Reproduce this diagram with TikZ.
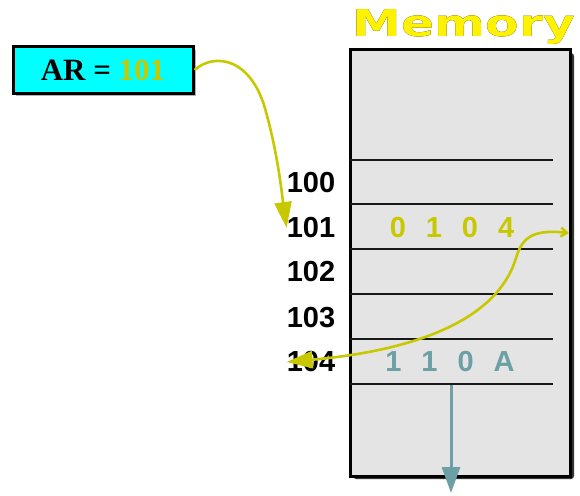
\documentclass[tikz,border=0pt]{standalone}
\usepackage{fontspec}
\usepackage{pdfrender}
\setmainfont{Liberation Serif}
\setsansfont{Liberation Sans}
\newfontfamily\memfont{DejaVu Sans}
\usetikzlibrary{arrows.meta,calc}
\definecolor{olive}{RGB}{200,200,0}
\definecolor{tealc}{RGB}{108,160,166}
\definecolor{memgray}{RGB}{228,228,228}
\definecolor{ycyan}{RGB}{0,255,255}
\tikzset{
  addr/.style={font=\sffamily\bfseries\fontsize{29}{32}\selectfont, inner sep=0pt},
  cell/.style={line width=2.6pt, black!90},
  yarrow/.style={draw=olive, line width=2.6pt},
  memletter/.style={font=\memfont\bfseries\fontsize{37}{40}\selectfont, xscale=1.32, inner sep=0pt},
}
\begin{document}
\begin{tikzpicture}[x=1pt,y=-1pt]
\useasboundingbox (0,0) rectangle (580,495);
% AR box
\fill[black!30] (16,50) rectangle (196,96);
\node[draw=black, line width=3pt, fill=ycyan, minimum width=180pt, minimum height=46pt, inner sep=0pt,
      font=\rmfamily\bfseries\fontsize{31}{34}\selectfont] (ar) at (103,70) {AR = \textcolor{olive}{101}};
% Memory title: black outline underneath, yellow on top
\node[memletter, text=black] (memoutline) at (464,27) {\textpdfrender{TextRenderingMode=FillStroke, LineWidth=3.2}{Memory}};
\node[memletter, text=yellow] (memtitle) at (464,27) {Memory};
% Memory box
\fill[black!80, rounded corners=3pt] (353,53) rectangle (574,479);
\draw[line width=3pt, fill=memgray] (350,50) rectangle (570,476);
\foreach \yy [count=\k] in {160,204,249,294,339,384}{
  \draw[cell] (350,\yy) -- (553,\yy);
}
% address labels
\node[addr] (l100) at (311,183) {100};
\node[addr] (l101) at (311,228) {101};
\node[addr] (l102) at (311,272) {102};
\node[addr] (l103) at (311,318) {103};
\node[addr] (l104) at (311,362) {104};
% contents
\node[addr, text=olive] (c101) at (452,228) {0\hspace{20pt}1\hspace{20pt}0\hspace{20pt}4};
\node[addr, text=tealc] (c104) at (450,362) {1\hspace{20pt}1\hspace{20pt}0\hspace{20pt}A};
% arrows
\coordinate (rin) at (569,233);
\coordinate (tstart) at (451,385);
\coordinate (tend) at (451,493);
\draw[yarrow, -{Triangle[length=26pt,width=17pt]}] (ar.east) .. controls (215,52) and (252,58) .. (266,112) .. controls (278,155) and (282,195) .. (l101.west);
\draw[yarrow, {Straight Barb[length=6pt,width=9pt]}-{Triangle[length=26pt,width=17pt]}]
  (rin) .. controls (532,229) and (522,238) .. (516,258) .. controls (498,318) and (420,350) .. (l104.west);
\draw[draw=tealc, line width=3pt, -{Triangle[length=26pt,width=18pt]}] (tstart) -- (tend);
\end{tikzpicture}
\end{document}
